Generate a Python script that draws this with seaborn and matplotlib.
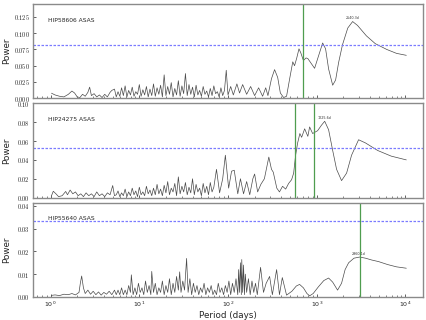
import numpy as np
import matplotlib
matplotlib.use('Agg')
import matplotlib.pyplot as plt
import seaborn as sns
from matplotlib.ticker import LogLocator, NullFormatter, MultipleLocator, FuncFormatter

# ---------------- data (log10 period in days, power) ----------------
names = ["HIP58606 ASAS", "HIP24275 ASAS", "HIP55640 ASAS"]
thresholds = [0.082, 0.0525, 0.0333]
ytops = [0.145, 0.100, 0.0413]
ysteps = [0.025, 0.02, 0.01]
ydigits = [3, 2, 2]
vlines = [[706.0], [568.0, 930.0], [3070.0]]
peak_period = [2540.0, 1225.0, 2960.0]
peak_power = [0.118, 0.081, 0.0175]
peak_labels = ["2540.3d", "1225.6d", "2960.1d"]

p1_logp = [0.01, 0.05, 0.10, 0.15, 0.20, 0.24, 0.27, 0.30, 0.33, 0.36, 0.39, 0.42, 0.44, 0.46,
           0.49, 0.52, 0.55, 0.58, 0.61, 0.64, 0.67, 0.69,
           0.72, 0.74, 0.76, 0.78, 0.80, 0.82, 0.84, 0.86, 0.88, 0.90, 0.92, 0.94, 0.96, 0.98,
           1.00, 1.02, 1.04, 1.06, 1.08, 1.10, 1.12, 1.14, 1.16, 1.18, 1.20, 1.22, 1.24, 1.26,
           1.28, 1.30, 1.32, 1.34, 1.36, 1.38, 1.40, 1.42, 1.44, 1.46, 1.48, 1.50, 1.52, 1.54,
           1.56, 1.58, 1.60, 1.62, 1.64, 1.66, 1.68, 1.70, 1.72, 1.74, 1.76, 1.78, 1.80, 1.82,
           1.84, 1.86, 1.88, 1.90, 1.92, 1.94, 1.96, 1.98, 2.00,
           2.03, 2.06, 2.10, 2.13, 2.165, 2.21, 2.255, 2.30, 2.345, 2.39, 2.425, 2.45, 2.49,
           2.525, 2.56, 2.59, 2.627, 2.66, 2.695, 2.73, 2.75, 2.775, 2.80, 2.82, 2.85, 2.88,
           2.90, 2.93, 2.976, 3.02, 3.067, 3.10, 3.134, 3.18, 3.213, 3.247, 3.29, 3.35, 3.405,
           3.46, 3.56, 3.66, 3.79, 3.90, 4.01]
p1_power = [0.0077, 0.005, 0.003, 0.002, 0.006, 0.011, 0.008, 0.002, 0.001, 0.006, 0.003, 0.009,
            0.017, 0.004, 0.007, 0.002, 0.005, 0.001, 0.006, 0.002, 0.009, 0.012,
            0.014, 0.002, 0.010, 0.003, 0.016, 0.004, 0.019, 0.002, 0.012, 0.005, 0.017, 0.003,
            0.010, 0.006, 0.021, 0.003, 0.013, 0.005, 0.018, 0.002, 0.014, 0.004, 0.022, 0.003,
            0.016, 0.006, 0.020, 0.002, 0.036, 0.004, 0.018, 0.006, 0.024, 0.002, 0.015, 0.005,
            0.027, 0.003, 0.019, 0.007, 0.038, 0.004, 0.021, 0.006, 0.017, 0.002, 0.020, 0.005,
            0.012, 0.003, 0.018, 0.006, 0.011, 0.002, 0.015, 0.004, 0.019, 0.007, 0.010, 0.002,
            0.016, 0.004, 0.012, 0.043, 0.005,
            0.018, 0.005, 0.022, 0.008, 0.021, 0.006, 0.018, 0.004, 0.016, 0.003, 0.016, 0.004,
            0.030, 0.044, 0.032, 0.008, 0.001, 0.003, 0.030, 0.056, 0.050, 0.062, 0.076, 0.070,
            0.058, 0.062, 0.061, 0.055, 0.046, 0.065, 0.085, 0.076, 0.045, 0.020, 0.028, 0.055,
            0.082, 0.108, 0.118, 0.112, 0.096, 0.084, 0.075, 0.069, 0.066]

p2_logp = [0.01, 0.03, 0.06, 0.09, 0.13, 0.17, 0.19, 0.22, 0.25, 0.28, 0.31, 0.34, 0.37, 0.40,
           0.43, 0.46, 0.49, 0.52, 0.55, 0.58, 0.61, 0.64, 0.67, 0.70, 0.72,
           0.74, 0.76, 0.78, 0.80, 0.82, 0.84, 0.86, 0.88, 0.90, 0.92, 0.94, 0.96, 0.98, 1.00,
           1.02, 1.04, 1.06, 1.08, 1.10, 1.12, 1.14, 1.16, 1.18, 1.20, 1.22, 1.24, 1.26, 1.28,
           1.30, 1.32, 1.34, 1.36, 1.38, 1.40, 1.42, 1.44, 1.46, 1.48, 1.50, 1.52, 1.54, 1.56,
           1.58, 1.60, 1.62, 1.64, 1.66, 1.68, 1.70, 1.72, 1.74, 1.76, 1.78, 1.80, 1.82, 1.84,
           1.87, 1.905, 1.94, 1.97, 2.007, 2.04, 2.07, 2.11, 2.14, 2.175, 2.21, 2.245, 2.28, 2.30,
           2.334, 2.37, 2.41, 2.46, 2.49, 2.51, 2.55, 2.58, 2.615, 2.65, 2.683, 2.717, 2.74,
           2.762, 2.785, 2.81, 2.83, 2.864, 2.90, 2.92, 2.954, 3.01, 3.055, 3.09, 3.134, 3.18,
           3.224, 3.28, 3.337, 3.393, 3.472, 3.55, 3.687, 3.84, 4.01]
p2_power = [0.002, 0.0067, 0.004, 0.001, 0.002, 0.0065, 0.003, 0.008, 0.004, 0.006, 0.002, 0.004,
            0.001, 0.005, 0.002, 0.004, 0.001, 0.006, 0.002, 0.004, 0.001, 0.005, 0.003, 0.0128,
            0.002,
            0.003, 0.007, 0.001, 0.005, 0.002, 0.009, 0.001, 0.006, 0.002, 0.010, 0.003, 0.007,
            0.001, 0.011, 0.003, 0.006, 0.002, 0.012, 0.004, 0.008, 0.002, 0.010, 0.003, 0.014,
            0.004, 0.009, 0.002, 0.013, 0.005, 0.017, 0.003, 0.010, 0.006, 0.015, 0.002, 0.022,
            0.004, 0.012, 0.006, 0.016, 0.003, 0.011, 0.005, 0.020, 0.003, 0.014, 0.006, 0.010,
            0.002, 0.015, 0.005, 0.012, 0.003, 0.016, 0.006, 0.011,
            0.030, 0.005, 0.020, 0.045, 0.010, 0.028, 0.029, 0.004, 0.020, 0.004, 0.017, 0.003,
            0.020, 0.025, 0.006, 0.014, 0.020, 0.043, 0.030, 0.027, 0.010, 0.006, 0.012, 0.009,
            0.015, 0.019, 0.026, 0.045, 0.058, 0.068, 0.064, 0.073, 0.065, 0.075, 0.068, 0.071,
            0.077, 0.081, 0.072, 0.050, 0.030, 0.018, 0.026, 0.045, 0.0614, 0.058, 0.050, 0.044,
            0.040]

p3_logp = [0.01, 0.05, 0.10, 0.15, 0.20, 0.24, 0.28, 0.32, 0.335, 0.35, 0.37, 0.39, 0.42, 0.45,
           0.48, 0.51, 0.54, 0.57, 0.60, 0.63, 0.66, 0.69, 0.72,
           0.74, 0.76, 0.78, 0.80, 0.82, 0.84, 0.86, 0.88, 0.90, 0.91, 0.93, 0.95, 0.97, 0.99,
           1.01, 1.03, 1.05, 1.07, 1.09, 1.11, 1.13, 1.14, 1.16, 1.18, 1.20, 1.22, 1.24, 1.26,
           1.28, 1.30, 1.32, 1.34, 1.36, 1.38, 1.40, 1.42, 1.44, 1.455, 1.47, 1.49, 1.51, 1.533,
           1.55, 1.57, 1.59, 1.61, 1.63, 1.65, 1.67, 1.69, 1.71, 1.73, 1.75, 1.77, 1.79, 1.81,
           1.83, 1.85, 1.87, 1.89, 1.91, 1.93, 1.95, 1.97, 1.99, 2.01, 2.03, 2.05, 2.07, 2.09,
           2.11, 2.12, 2.13, 2.14, 2.15, 2.155, 2.165, 2.175, 2.185, 2.195, 2.21, 2.23, 2.25,
           2.27, 2.29, 2.31, 2.33, 2.367, 2.40, 2.43, 2.469, 2.50, 2.548, 2.58, 2.612, 2.66,
           2.72, 2.77, 2.807, 2.85, 2.89, 2.92, 2.96, 3.02, 3.08, 3.134, 3.18, 3.235, 3.28,
           3.32, 3.36, 3.42, 3.484, 3.55, 3.62, 3.698, 3.80, 3.90, 4.01]
p3_power = [0.0007, 0.0009, 0.0006, 0.0012, 0.0010, 0.0015, 0.0009, 0.0020, 0.006, 0.0092, 0.004,
            0.0015, 0.0030, 0.0012, 0.0025, 0.0010, 0.0022, 0.0008, 0.0020, 0.0012, 0.0025,
            0.0010, 0.0030,
            0.001, 0.003, 0.001, 0.004, 0.001, 0.003, 0.001, 0.005, 0.002, 0.0097, 0.001, 0.004,
            0.001, 0.006, 0.002, 0.004, 0.001, 0.007, 0.002, 0.005, 0.001, 0.0112, 0.002, 0.006,
            0.001, 0.004, 0.002, 0.007, 0.001, 0.005, 0.002, 0.008, 0.001, 0.006, 0.002, 0.009,
            0.003, 0.011, 0.002, 0.007, 0.003, 0.0169, 0.002, 0.008, 0.001, 0.006, 0.002, 0.005,
            0.001, 0.004, 0.002, 0.006, 0.001, 0.004, 0.002, 0.005, 0.001, 0.003, 0.001, 0.006,
            0.002, 0.004, 0.001, 0.005, 0.002, 0.007, 0.001, 0.006, 0.002, 0.008, 0.001, 0.012,
            0.002, 0.015, 0.001, 0.0164, 0.002, 0.014, 0.001, 0.010, 0.002, 0.008, 0.001, 0.007,
            0.002, 0.006, 0.001, 0.013, 0.002, 0.006, 0.009, 0.001, 0.012, 0.001, 0.0085, 0.0008,
            0.0025, 0.0048, 0.0055, 0.0040, 0.0015, 0.0005, 0.0015, 0.0045, 0.0072, 0.0083,
            0.0065, 0.0030, 0.0060, 0.0120, 0.0150, 0.0170, 0.0175, 0.0170, 0.0162, 0.0155,
            0.0142, 0.0132, 0.0126]

panels = [(p1_logp, p1_power), (p2_logp, p2_power), (p3_logp, p3_power)]

# ---------------- style ----------------
sns.set_style('white')
plt.rcParams['font.family'] = ['DejaVu Sans']
plt.rcParams['mathtext.fontset'] = 'cm'

fig, axes = plt.subplots(3, 1, figsize=(4.27, 3.2), dpi=100, sharex=True)
fig.subplots_adjust(left=0.077, right=0.991, top=0.9875, bottom=0.072, hspace=0.055)

for i, ax in enumerate(axes):
    logp, power = panels[i]
    period = 10 ** np.array(logp)
    sns.lineplot(x=period, y=np.array(power), ax=ax, color='#4a4a4a', lw=0.5,
                 estimator=None, sort=False)
    ax.set_xscale('log')
    ax.set_xlim(10 ** -0.2, 10 ** 4.2)
    ax.set_ylim(0, ytops[i])
    ax.axhline(thresholds[i], color='#7b7bff', ls=(0, (2.0, 1.2)), lw=0.9)
    for v in vlines[i]:
        ax.axvline(v, color='#4f9d4f', lw=0.9)
    ax.text(0.038, 0.83, names[i], transform=ax.transAxes, fontsize=4.3, va='center')
    ax.annotate(peak_labels[i], (peak_period[i], peak_power[i]), xytext=(0, 1.0),
                textcoords='offset points', ha='center', va='bottom', fontsize=2.4,
                color='#333333')
    ax.yaxis.set_major_locator(MultipleLocator(ysteps[i]))
    d = ydigits[i]
    ax.yaxis.set_major_formatter(FuncFormatter(lambda v, p, d=d: r'$%.*f$' % (d, v)))
    ax.xaxis.set_major_locator(LogLocator(base=10, numticks=10))
    ax.xaxis.set_minor_locator(LogLocator(base=10, subs=np.arange(2, 10), numticks=20))
    ax.xaxis.set_minor_formatter(NullFormatter())
    ax.tick_params(which='major', direction='in', labelsize=4.5, length=2.2, width=0.5,
                   top=False, right=False, left=True, bottom=True, pad=2, colors='#222222')
    ax.tick_params(which='minor', direction='in', length=1.2, width=0.4, bottom=True, left=False)
    for s in ax.spines.values():
        s.set_color('#8a8a8a')
        s.set_linewidth(1.0)
    ax.set_ylabel('Power', fontsize=6.3)
    ax.yaxis.set_label_coords(-0.055, 0.5)
    ax.set_xlabel('')

axes[2].set_xlabel('Period (days)', fontsize=6.3, labelpad=1.5)

fig.savefig('out.png', dpi=100)
